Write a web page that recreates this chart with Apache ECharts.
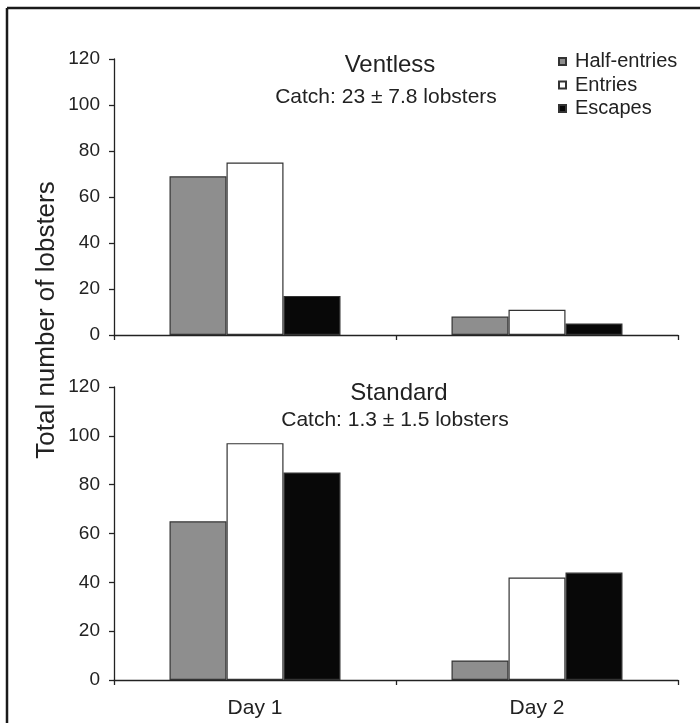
<!DOCTYPE html>
<html>
<head>
<meta charset="utf-8">
<script src="https://cdn.jsdelivr.net/npm/echarts@6/dist/echarts.min.js"></script>
<style>html,body{margin:0;padding:0;background:#fff;}#c{width:700px;height:723px;}</style>
</head>
<body>
<div id="c"></div>
<script>
var categories = ['Day 1', 'Day 2'];
var seriesNames = ['Half-entries', 'Entries', 'Escapes'];
var ventlessHalf = [69, 8];
var ventlessEntries = [75, 11];
var ventlessEscapes = [17, 5];
var standardHalf = [65, 8];
var standardEntries = [97, 42];
var standardEscapes = [85, 44];
var yTicks = [0, 20, 40, 60, 80, 100, 120];

var FONT = '"Liberation Sans", Arial, sans-serif';
var colors = ['#8e8e8e', '#ffffff', '#080808'];
var chart = echarts.init(document.getElementById('c'), null, {renderer: 'canvas'});

function yAx(gi) {
  return {
    gridIndex: gi, type: 'value', min: yTicks[0], max: yTicks[yTicks.length - 1], interval: yTicks[1] - yTicks[0],
    axisLine: {show: true, lineStyle: {color: '#222', width: 1.3}},
    axisTick: {show: true, length: 5, lineStyle: {color: '#222', width: 1.3}},
    axisLabel: {fontSize: 19, color: '#222', fontFamily: FONT, margin: 14},
    splitLine: {show: false}
  };
}
function xAx(gi, showLabel) {
  return {
    gridIndex: gi, type: 'category', data: categories,
    axisLine: {show: true, lineStyle: {color: '#222', width: 1.3}},
    axisTick: {show: true, length: 5, alignWithLabel: false, lineStyle: {color: '#222', width: 1.3}},
    axisLabel: {show: showLabel, fontSize: 21, color: '#222', fontFamily: FONT, margin: 18}
  };
}
function bar(name, data, gi, ci) {
  return {
    name: name, type: 'bar', xAxisIndex: gi, yAxisIndex: gi, data: data,
    barWidth: 57, barGap: '0%',
    itemStyle: {color: colors[ci], borderColor: '#333', borderWidth: 1.2},
    silent: true, animation: false
  };
}

chart.setOption({
  backgroundColor: '#ffffff',
  animation: false,
  grid: [
    {left: 114, right: 22, top: 59, height: 276},
    {left: 114, right: 22, top: 387, height: 293}
  ],
  xAxis: [xAx(0, false), xAx(1, true)],
  yAxis: [yAx(0), yAx(1)],
  legend: {
    orient: 'vertical', left: 553, top: 46.5, itemWidth: 7, itemHeight: 7, icon: 'rect',
    itemGap: 3.5,
    textStyle: {fontSize: 20, lineHeight: 20, color: '#222', fontFamily: FONT, padding: [0, 0, 0, 4]},
    data: seriesNames
  },
  series: [
    bar(seriesNames[0], ventlessHalf, 0, 0),
    bar(seriesNames[1], ventlessEntries, 0, 1),
    bar(seriesNames[2], ventlessEscapes, 0, 2),
    bar(seriesNames[0], standardHalf, 1, 0),
    bar(seriesNames[1], standardEntries, 1, 1),
    bar(seriesNames[2], standardEscapes, 1, 2)
  ],
  graphic: [
    {type: 'line', shape: {x1: 7, y1: 8, x2: 700, y2: 8}, style: {stroke: '#1a1a1a', lineWidth: 2.5}},
    {type: 'line', shape: {x1: 7, y1: 8, x2: 7, y2: 723}, style: {stroke: '#1a1a1a', lineWidth: 2.5}},
    {type: 'text', x: 390, y: 65, style: {text: 'Ventless', font: '24px ' + FONT, fill: '#222', textAlign: 'center', textVerticalAlign: 'middle'}},
    {type: 'text', x: 386, y: 97, style: {text: 'Catch: 23 \u00b1 7.8 lobsters', font: '21px ' + FONT, fill: '#222', textAlign: 'center', textVerticalAlign: 'middle'}},
    {type: 'text', x: 399, y: 393, style: {text: 'Standard', font: '24px ' + FONT, fill: '#222', textAlign: 'center', textVerticalAlign: 'middle'}},
    {type: 'text', x: 395, y: 420, style: {text: 'Catch: 1.3 \u00b1 1.5 lobsters', font: '21px ' + FONT, fill: '#222', textAlign: 'center', textVerticalAlign: 'middle'}},
    {type: 'text', x: 47, y: 320, rotation: Math.PI / 2, style: {text: 'Total number of lobsters', font: '26px ' + FONT, fill: '#222', textAlign: 'center', textVerticalAlign: 'middle'}}
  ]
});
</script>
</body>
</html>
